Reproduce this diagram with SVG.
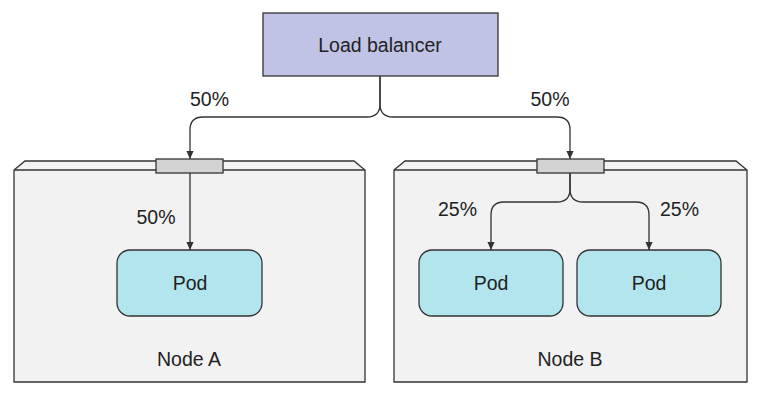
<svg xmlns="http://www.w3.org/2000/svg" width="763" height="412" viewBox="0 0 763 412">
  <defs>
    <marker id="arrow" viewBox="0 0 10 10" refX="10" refY="5" markerWidth="10" markerHeight="8" markerUnits="userSpaceOnUse" orient="auto">
      <path d="M0,0.5 L10,5 L0,9.5 Z" fill="#333"/>
    </marker>
    <style>
      text { font-family: "Liberation Sans", Arial, sans-serif; font-size: 19.5px; fill: #222; }
      .lbl { text-anchor: middle; dominant-baseline: central; }
      .box { fill: #f2f2f2; stroke: #333; stroke-width: 1.3; }
      .edge { fill: none; stroke: #333; stroke-width: 1.3; }
      .port { fill: #d3d3d3; stroke: #333; stroke-width: 1.3; }
      .pod { fill: #b3e5ef; stroke: #333; stroke-width: 1.3; }
      .lb { fill: #c0c3e6; stroke: #333; stroke-width: 1.3; }
      .wire { fill: none; stroke: #333; stroke-width: 1.3; marker-end: url(#arrow); }
    </style>
  </defs>
  <rect width="763" height="412" fill="#fff"/>

  <g id="node-a">
    <polygon class="box" points="14,170 25,161 354,161 365,170 365,382 14,382"/>
    <line class="edge" x1="14" y1="170" x2="365" y2="170"/>
    <rect class="port" x="156" y="159" width="67" height="14"/>
    <text class="lbl" x="189" y="359">Node A</text>
  </g>

  <g id="node-b">
    <polygon class="box" points="394,170 405,161 736,161 747,170 747,382 394,382"/>
    <line class="edge" x1="394" y1="170" x2="747" y2="170"/>
    <rect class="port" x="537" y="159" width="67" height="14"/>
    <text class="lbl" x="570" y="359">Node B</text>
  </g>

  <g id="load-balancer">
    <rect class="lb" x="263" y="13" width="235" height="63"/>
    <text class="lbl" x="380" y="45">Load balancer</text>
  </g>

  <g id="pod-a">
    <rect class="pod" x="117" y="250" width="145" height="66" rx="13"/>
    <text class="lbl" x="190" y="283">Pod</text>
  </g>

  <g id="pod-b1">
    <rect class="pod" x="419" y="250" width="144" height="66" rx="13"/>
    <text class="lbl" x="491" y="283">Pod</text>
  </g>

  <g id="pod-b2">
    <rect class="pod" x="577" y="250" width="144" height="66" rx="13"/>
    <text class="lbl" x="649" y="283">Pod</text>
  </g>

  <g id="connectors">
    <path class="wire" d="M380,76 V104 Q380,117 367,117 H203 Q190,117 190,130 V159"/>
    <path class="wire" d="M380,76 V104 Q380,117 393,117 H557 Q570,117 570,130 V159"/>
    <path class="wire" d="M190,173 V250"/>
    <path class="wire" d="M570,173 V189 Q570,202 557,202 H504 Q491,202 491,215 V250"/>
    <path class="wire" d="M570,173 V189 Q570,202 583,202 H636 Q649,202 649,215 V250"/>
    <text class="lbl" x="209.5" y="99">50%</text>
    <text class="lbl" x="550" y="99">50%</text>
    <text class="lbl" x="156" y="216.5">50%</text>
    <text class="lbl" x="457.5" y="209">25%</text>
    <text class="lbl" x="679.5" y="209">25%</text>
  </g>
</svg>
